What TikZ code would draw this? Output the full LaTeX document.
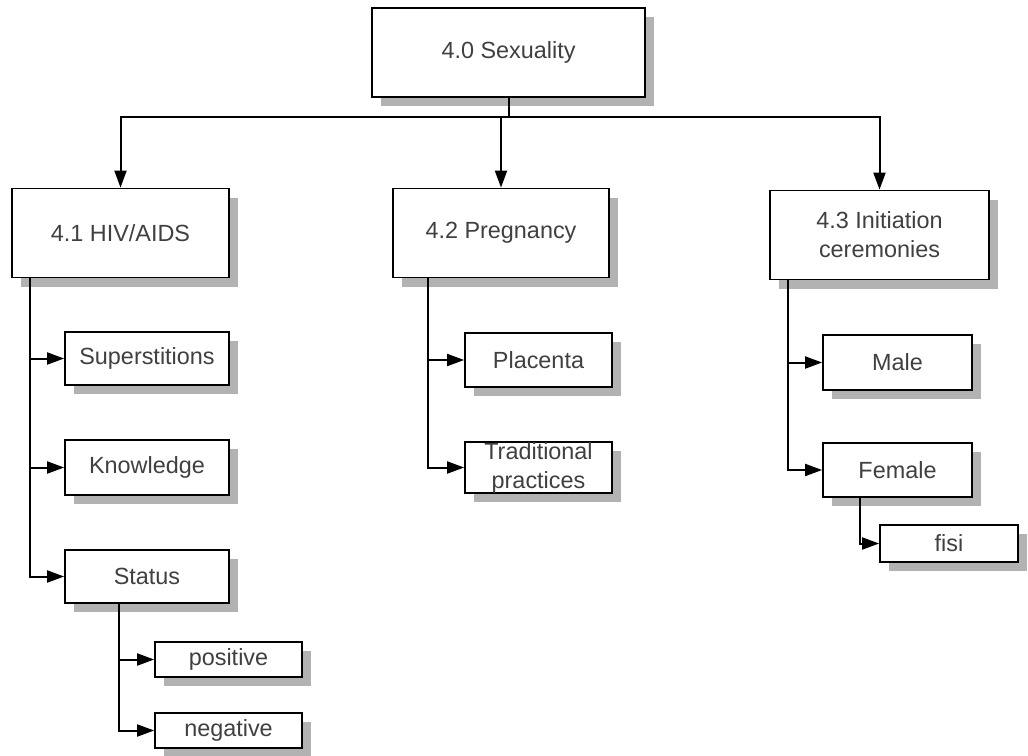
\documentclass[tikz,border=0pt]{standalone}
\usepackage{fontspec}
\setmainfont{Liberation Sans}
\usepackage{tikz}
\usetikzlibrary{shapes,arrows.meta,shadows}
\newcommand{\topicnode}[5] {\node at (#1) (#2) [topic, minimum width=#3*0.5pt, minimum height=#4*0.5pt] {#5};}
\newcommand{\stem}[2] {\coordinate (#1) at (#2);}
\newcommand{\branch}[2] {\draw [->] (#1) |- (#2);}
\tikzset{topic/.style={draw, line width=0.9pt, fill=white, inner sep=0pt, align=center,
  font=\fontsize{11.7}{14.5}\selectfont, text=black!75,
  drop shadow={shadow xshift=4.5pt, shadow yshift=-4.5pt, fill=gray!60, opacity=1}}}

\begin{document}
\begin{tikzpicture}[x=0.5pt, y=-0.5pt, line width=1pt, >={Triangle[length=8.5pt,width=6pt]}]
\useasboundingbox (0,0) rectangle (1028,755);
\topicnode {508.5,52.5} {sex} {273} {89} {4.0 Sexuality};
\topicnode {120.5,233} {hiv} {217} {89} {4.1 HIV/AIDS};
\topicnode {501,233} {preg} {216} {89} {4.2 Pregnancy};
\topicnode {879.5,235} {init} {219} {89} {4.3 Initiation\\ceremonies};

\topicnode {147,358.5} {sup} {164} {53} {Superstitions};
\topicnode {147,467.5} {know} {164} {55} {Knowledge};
\topicnode {147,576.5} {status} {164} {53} {Status};
\topicnode {228.5,659.5} {pos} {147} {35} {positive};
\topicnode {228.5,730.5} {neg} {147} {35} {negative};

\topicnode {538.5,360} {plac} {147} {54} {Placenta};
\topicnode {538.5,467.5} {trad} {147} {51} {Traditional\\practices};

\topicnode {897.5,362.5} {male} {149} {55} {Male};
\topicnode {897.5,470} {fem} {149} {54} {Female};
\topicnode {949,543.5} {fisi} {138} {37} {fisi};

% top level
\coordinate (bus) at (508.5,117);
\draw [->] (sex.south) -- (bus) -| (hiv.north);
\draw [->] (bus) -| (preg.north);
\draw [->] (bus) -| (init.north);

% sub topics
\stem {hivstem} {30,277.5};
\branch {hivstem} {sup.west};
\branch {hivstem} {know.west};
\branch {hivstem} {status.west};
\stem {statstem} {119,603};
\branch {statstem} {pos.west};
\branch {statstem} {neg.west};
\stem {pregstem} {428,277.5};
\branch {pregstem} {plac.west};
\branch {pregstem} {trad.west};
\stem {initstem} {788,279.5};
\branch {initstem} {male.west};
\branch {initstem} {fem.west};
\stem {femstem} {860,497};
\branch {femstem} {fisi.west};
\end{tikzpicture}
\end{document}
